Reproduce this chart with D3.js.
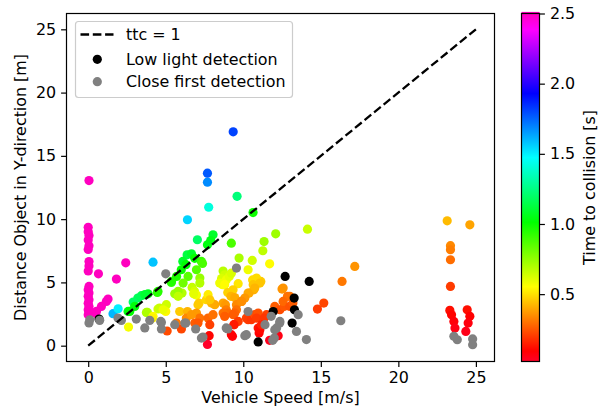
<!DOCTYPE html>
<html>
<head>
<meta charset="utf-8">
<script src="https://cdn.jsdelivr.net/npm/d3@7"></script>
<style>
	body { margin: 0; background: #fff; }
	svg { display: block; font-family: 'DejaVu Sans', sans-serif; }
</style>
</head>
<body>
<div id="chart"></div>
<script>
// colored points: [speed, distance, ttc]
var ttcPoints = [
	[0.05,13.05,2.5],[0.0,9.35,2.5],[0.0,9.0,2.5],[0.05,8.7,2.5],[0.0,8.35,2.5],[0.05,7.9,2.5],
	[0.0,7.6,2.5],[0.05,6.65,2.5],[0.05,6.3,2.5],[0.0,5.9,2.5],[0.05,4.68,2.5],[0.0,4.42,2.5],
	[0.05,4.16,2.5],[0.0,3.9,2.5],[0.05,3.63,2.5],[0.0,3.35,2.5],[0.05,3.1,2.5],[0.0,2.84,2.5],
	[0.05,2.6,2.5],[0.0,2.45,2.5],[0.66,5.68,2.5],[1.82,5.26,2.5],[2.42,6.55,2.5],[0.42,2.58,2.5],
	[0.53,2.71,2.5],[0.85,3.1,2.5],[1.17,3.5,2.5],[1.28,3.68,2.5],
	[1.6,2.53,1.6],[1.93,2.92,1.5],[4.18,6.6,1.58],[6.4,9.95,1.55],[7.77,10.94,1.41],
	[7.69,12.92,1.68],[7.69,13.63,1.77],[9.35,16.9,1.81],[9.6,11.8,1.23],[10.63,10.52,0.99],
	[7.04,8.37,1.19],[8.05,8.76,1.09],[7.9,8.31,1.05],[7.69,7.97,1.04],[9.23,8.1,0.88],
	[6.38,7.18,1.13],[6.66,7.26,1.09],[6.87,6.9,1.0],[7.3,6.66,0.91],[7.37,6.5,0.88],
	[6.1,6.66,1.09],[6.3,6.4,1.02],[6.0,6.0,1.0],[6.98,6.0,0.86],[5.7,5.47,0.96],[5.36,5.0,0.93],
	[7.2,5.34,0.74],[6.44,5.47,0.85],[6.12,4.95,0.81],[5.37,5.08,0.95],
	[4.5,4.29,0.95],[3.86,4.1,1.06],[3.43,3.95,1.15],[3.2,3.76,1.17],[2.9,3.45,1.19],
	[2.57,2.71,1.05],[2.68,2.71,1.01],[3.0,3.1,1.03],[3.65,4.03,1.1],[4.46,4.21,0.94],
	[12.09,8.84,0.73],[11.34,8.23,0.73],[11.26,7.5,0.67],[14.14,9.21,0.65],[9.73,6.92,0.71],
	[10.58,6.74,0.64],[11.7,6.47,0.55],[8.7,5.9,0.68],[8.8,5.6,0.64],[8.6,5.3,0.62],[8.9,5.2,0.58],
	[9.1,5.47,0.6],[9.23,5.73,0.62],[10.31,6.0,0.58],
	[3.82,2.63,0.69],[3.75,2.63,0.7],[4.5,2.9,0.64],[4.6,2.97,0.65],[5.04,3.24,0.64],
	[5.58,4.1,0.73],[6.05,4.16,0.69],[5.8,4.3,0.74],[5.8,3.9,0.67],[7.2,4.95,0.69],
	[4.18,2.32,0.55],[4.14,2.18,0.53],[2.6,1.47,0.57],[5.0,2.7,0.54],[4.83,2.84,0.59],[5.9,2.7,0.46],
	[6.7,4.6,0.66],[6.85,4.3,0.63],[6.98,4.0,0.57],[6.8,4.1,0.6],[8.66,4.82,0.56],[8.48,4.95,0.58],
	[8.8,4.82,0.55],[10.6,5.2,0.49],[10.68,4.42,0.41],
	[9.67,4.9,0.51],[9.34,4.42,0.47],[9.0,4.2,0.47],[9.2,3.9,0.42],[9.45,3.8,0.4],[10.38,4.16,0.4],
	[11.13,5.08,0.46],[10.85,5.34,0.49],[11.07,4.95,0.45],[10.64,4.82,0.45],[10.74,4.55,0.42],
	[10.31,4.16,0.4],[10.1,3.76,0.37],[9.88,3.5,0.35],[9.56,3.24,0.34],
	[7.15,3.37,0.47],[7.62,3.63,0.48],[7.95,3.37,0.42],[8.16,3.24,0.4],[7.73,4.03,0.52],
	[7.84,3.63,0.46],[7.08,3.24,0.46],[6.4,2.7,0.42],[8.7,3.37,0.39],[8.85,3.24,0.37],
	[8.9,2.84,0.32],[9.0,2.58,0.29],[9.56,2.84,0.3],[6.98,2.58,0.37],[7.19,2.18,0.3],[7.73,2.18,0.28],
	[8.05,2.45,0.3],[8.7,2.58,0.3],[8.8,2.31,0.26],[6.33,2.18,0.34],[6.66,2.45,0.37],[5.69,1.79,0.31],
	[6.87,1.79,0.26],[9.9,3.5,0.35],[12.5,4.47,0.36],[12.57,4.55,0.36],[12.85,3.9,0.3],[13.0,3.9,0.3],
	[6.01,1.32,0.22],[5.09,1.16,0.23],[7.08,1.79,0.25],[7.84,1.66,0.21],[9.45,2.58,0.27],
	[9.35,2.45,0.26],[9.67,1.92,0.2],[10.2,2.18,0.21],[10.31,2.05,0.2],[10.52,2.05,0.19],
	[10.74,2.45,0.23],[10.96,2.58,0.24],[10.85,2.18,0.2],[11.5,2.45,0.21],[11.35,2.18,0.19],
	[12.03,3.1,0.26],[12.36,2.84,0.23],[12.63,3.1,0.25],[12.57,3.5,0.28],[13.0,3.1,0.24],
	[13.2,3.37,0.26],[9.41,1.66,0.18],
	[7.8,0.79,0.1],[7.69,0.1,0.02],[9.39,1.66,0.14],[9.3,0.74,0.08],[9.23,0.87,0.09],
	[10.96,1.39,0.13],[11.02,1.0,0.09],[11.07,1.26,0.11],[11.17,1.66,0.15],[11.7,0.42,0.04],
	[12.25,0.79,0.06],
	[14.78,2.89,0.2],[15.19,3.37,0.22],[16.37,5.08,0.31],[17.19,6.26,0.36],
	[23.15,9.87,0.43],[24.61,9.55,0.39],[23.36,7.9,0.34],[23.36,7.58,0.32],[23.36,6.79,0.29],
	[23.36,4.68,0.2],[23.32,2.79,0.12],[23.43,2.44,0.1],[23.58,1.92,0.08],[23.65,1.39,0.06],
	[24.44,2.84,0.12],[24.61,2.32,0.09],[24.5,1.79,0.07],[24.35,1.13,0.05]
];

var lowLight = [
	[0.7,2.1],[10.96,0.3],[11.93,2.7],[12.7,5.47],[13.28,3.76],[13.3,2.84],[13.15,1.79],[14.25,5.08]
];

var closeFirst = [
	[0.1,2.05],[0.05,1.8],[0.74,2.0],[1.92,2.18],[2.14,2.0],[3.1,2.1],[3.65,1.4],[3.97,2.0],
	[4.68,1.92],[4.72,1.84],[4.72,1.32],[5.0,5.68],[5.58,1.66],[6.23,1.79],[6.29,1.79],[6.93,1.32],
	[7.3,0.6],[7.4,0.68],[8.9,1.4],[9.0,1.32],[9.56,6.13],[10.31,2.7],[10.1,0.79],[10.2,0.87],
	[11.4,1.66],[11.8,2.32],[12.0,0.6],[11.9,0.42],[12.35,1.79],[12.36,1.92],[12.03,1.26],
	[12.15,1.4],[13.43,1.13],[13.54,2.45],[14.07,0.48],[16.29,1.97],[23.58,0.74],[23.8,0.47],
	[24.79,0.53],[24.79,0.08]
];

var ttcLine = [[0, 0], [25, 25]];
var xTicks = [0, 5, 10, 15, 20, 25];
var yTicks = [0, 5, 10, 15, 20, 25];
var cbTicks = [0.5, 1.0, 1.5, 2.0, 2.5];
var cbRange = [0.02, 2.5];

// gist_rainbow stops
var rainbowPos = [0.0, 0.03, 0.215, 0.4, 0.586, 0.77, 0.954, 1.0];
var rainbowCol = ['rgb(255,0,41)', 'rgb(255,0,0)', 'rgb(255,255,0)', 'rgb(0,255,0)',
	'rgb(0,255,255)', 'rgb(0,0,255)', 'rgb(255,0,255)', 'rgb(255,0,191)'];

var W = 604, H = 409;
var plot = {left: 66.5, right: 494.5, top: 13.5, bottom: 361.5};
var fs = 15.9;
var r = 4.6;
var lw = 1.2;

var svg = d3.select('#chart').append('svg')
	.attr('width', W)
	.attr('height', H);

var x = d3.scaleLinear().domain([-1.4, 26.2]).range([plot.left, plot.right]);
var y = d3.scaleLinear().domain([-1.25, 26.25]).range([plot.bottom, plot.top]);

var color = d3.scaleLinear()
	.domain(rainbowPos.map(function(p) { return cbRange[0] + p * (cbRange[1] - cbRange[0]); }))
	.range(rainbowCol)
	.clamp(true);

var g = svg.append('g');

g.selectAll('circle.ttc')
	.data(ttcPoints)
	.enter()
	.append('circle')
	.attr('class', 'ttc')
	.attr('cx', function(d) { return x(d[0]); })
	.attr('cy', function(d) { return y(d[1]); })
	.attr('r', r)
	.style('fill', function(d) { return color(d[2]); });

g.selectAll('circle.low')
	.data(lowLight)
	.enter()
	.append('circle')
	.attr('class', 'low')
	.attr('cx', function(d) { return x(d[0]); })
	.attr('cy', function(d) { return y(d[1]); })
	.attr('r', r)
	.style('fill', '#000');

g.selectAll('circle.close')
	.data(closeFirst)
	.enter()
	.append('circle')
	.attr('class', 'close')
	.attr('cx', function(d) { return x(d[0]); })
	.attr('cy', function(d) { return y(d[1]); })
	.attr('r', r)
	.style('fill', '#808080');

var line = d3.line()
	.x(function(d) { return x(d[0]); })
	.y(function(d) { return y(d[1]); });

g.append('path')
	.datum(ttcLine)
	.attr('d', line)
	.style('fill', 'none')
	.style('stroke', '#000')
	.style('stroke-width', 2.3)
	.style('stroke-dasharray', '8.6,3.7');

function styleAxis(a) {
	a.select('.domain').remove();
	a.selectAll('text').style('font-size', fs + 'px').style('fill', '#000')
		.style('font-family', 'DejaVu Sans');
	a.selectAll('line').style('stroke-width', lw);
}

// axes
svg.append('g')
	.attr('transform', 'translate(0,' + plot.bottom + ')')
	.call(d3.axisBottom(x).tickValues(xTicks).tickSize(5.4).tickPadding(5).tickFormat(d3.format('d')))
	.call(styleAxis);

svg.append('g')
	.attr('transform', 'translate(' + plot.left + ',0)')
	.call(d3.axisLeft(y).tickValues(yTicks).tickSize(5.4).tickPadding(5).tickFormat(d3.format('d')))
	.call(styleAxis);

svg.append('rect')
	.attr('x', plot.left)
	.attr('y', plot.top)
	.attr('width', plot.right - plot.left)
	.attr('height', plot.bottom - plot.top)
	.style('fill', 'none')
	.style('stroke', '#000')
	.style('stroke-width', lw);

svg.append('text')
	.attr('x', (plot.left + plot.right) / 2)
	.attr('y', 403)
	.style('text-anchor', 'middle')
	.style('font-size', fs + 'px')
	.text('Vehicle Speed [m/s]');

svg.append('text')
	.attr('transform', 'translate(25.5,' + ((plot.top + plot.bottom) / 2) + ') rotate(-90)')
	.style('text-anchor', 'middle')
	.style('font-size', fs + 'px')
	.text('Distance Object in Y-direction [m]');

// legend
var leg = svg.append('g');
leg.append('rect')
	.attr('x', 75.5)
	.attr('y', 21.5)
	.attr('width', 217)
	.attr('height', 76)
	.attr('rx', 3)
	.style('fill', '#fff')
	.style('fill-opacity', 0.8)
	.style('stroke', '#ccc')
	.style('stroke-width', lw);

leg.append('line')
	.attr('x1', 80.5).attr('x2', 113.5)
	.attr('y1', 34.5).attr('y2', 34.5)
	.style('stroke', '#000')
	.style('stroke-width', 2.3)
	.style('stroke-dasharray', '8.6,3.7');

var legItems = [
	{label: 'ttc = 1', y: 34.5},
	{label: 'Low light detection', y: 59.3, fill: '#000'},
	{label: 'Close first detection', y: 81.7, fill: '#808080'}
];

legItems.forEach(function(d) {
	if (d.fill) {
		leg.append('circle')
			.attr('cx', 97.3)
			.attr('cy', d.y)
			.attr('r', r)
			.style('fill', d.fill);
	}
	leg.append('text')
		.attr('x', 126)
		.attr('y', d.y)
		.attr('dy', '0.36em')
		.style('font-size', fs + 'px')
		.text(d.label);
});

// colorbar
var cb = {left: 521.5, right: 539.5, top: 13.5, bottom: 361.5};
var cy = d3.scaleLinear().domain(cbRange).range([cb.bottom, cb.top]);

var grad = svg.append('defs').append('linearGradient')
	.attr('id', 'cbgrad')
	.attr('x1', 0).attr('y1', 1)
	.attr('x2', 0).attr('y2', 0);

rainbowPos.forEach(function(p, i) {
	grad.append('stop')
		.attr('offset', p)
		.attr('stop-color', rainbowCol[i]);
});

// thin sliver of the top colour peeking above the frame
svg.append('rect')
	.attr('x', cb.left)
	.attr('y', cb.top - 1.6)
	.attr('width', cb.right - cb.left)
	.attr('height', 1.6)
	.style('fill', color(cbRange[1]));

svg.append('rect')
	.attr('x', cb.left)
	.attr('y', cb.top)
	.attr('width', cb.right - cb.left)
	.attr('height', cb.bottom - cb.top)
	.style('fill', 'url(#cbgrad)')
	.style('stroke', '#000')
	.style('stroke-width', lw);

svg.append('g')
	.attr('transform', 'translate(' + cb.right + ',0)')
	.call(d3.axisRight(cy).tickValues(cbTicks).tickSize(5.4).tickPadding(5).tickFormat(d3.format('.1f')))
	.call(styleAxis);

svg.append('text')
	.attr('transform', 'translate(595,' + ((cb.top + cb.bottom) / 2) + ') rotate(-90)')
	.style('text-anchor', 'middle')
	.style('font-size', fs + 'px')
	.text('Time to collision [s]');
</script>
</body>
</html>
